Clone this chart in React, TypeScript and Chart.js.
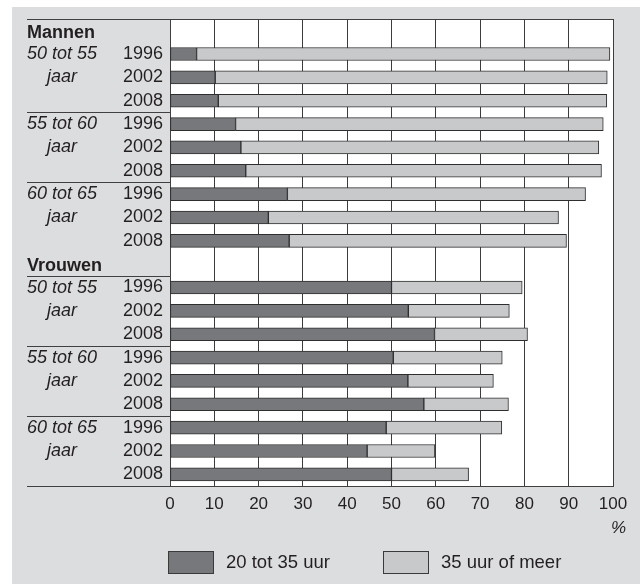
import { useEffect, useRef } from 'react';
import { Chart, registerables } from 'chart.js';

Chart.register(...registerables);

// ---- data ----
const categories = [
  '', '1996', '2002', '2008', '1996', '2002', '2008', '1996', '2002', '2008',
  '', '1996', '2002', '2008', '1996', '2002', '2008', '1996', '2002', '2008',
];
const sexLabels = ['Mannen', 'Vrouwen'];
const ageLabels = [
  ['50 tot 55', 'jaar'],
  ['55 tot 60', 'jaar'],
  ['60 tot 65', 'jaar'],
];
const seriesNames = ['20 tot 35 uur', '35 uur of meer'];
const part20to35: (number | null)[] = [
  null, 6.0, 10.2, 10.9, 14.8, 16.0, 17.1, 26.5, 22.2, 26.9,
  null, 50.0, 53.8, 59.7, 50.4, 53.7, 57.3, 48.8, 44.5, 50.0,
];
const part35plus: (number | null)[] = [
  null, 93.3, 88.5, 87.7, 83.0, 80.8, 80.3, 67.3, 65.5, 62.6,
  null, 29.5, 22.8, 21.0, 24.6, 19.3, 19.1, 26.1, 15.3, 17.4,
];
const xMin = 0;
const xMax = 100;
const xStep = 10;
const unitLabel = '%';

const DARK = '#77787b';
const LIGHT = '#c8c9cb';
const EDGE = '#2e2e2e';
const TEXT = '#231f20';
const BG = '#dcdddf';
const FONT = "'Liberation Sans', Arial, Helvetica, sans-serif";

const decorPlugin = {
  id: 'decor',
  beforeDraw(chart: any) {
    const { ctx, width, height, chartArea } = chart;
    ctx.save();
    ctx.fillStyle = '#ffffff';
    ctx.fillRect(0, 0, width, height);
    ctx.fillStyle = BG;
    ctx.fillRect(12, 7, width - 12, height - 7);
    ctx.fillStyle = '#ffffff';
    ctx.fillRect(chartArea.left, chartArea.top, chartArea.right - chartArea.left, chartArea.bottom - chartArea.top);
    ctx.restore();
  },
  afterDraw(chart: any) {
    const { ctx, chartArea } = chart;
    const y = chart.scales.y;
    const n = categories.length;
    const step = (chartArea.bottom - chartArea.top) / n;
    const rowY = (i: number) => y.getPixelForValue(i);
    const leftX = 27;
    ctx.save();
    // separators
    ctx.strokeStyle = '#404040';
    ctx.lineWidth = 1;
    const line = (yy: number, x2: number) => {
      const py = Math.round(yy) + 0.5;
      ctx.beginPath();
      ctx.moveTo(leftX, py);
      ctx.lineTo(x2, py);
      ctx.stroke();
    };
    line(chartArea.top, chartArea.right);
    line(chartArea.bottom, chartArea.right);
    const blockSize = 1 + ageLabels.length * 3;
    sexLabels.forEach((_, s) => {
      ageLabels.forEach((__, g) => {
        const r = s * blockSize + 1 + g * 3;
        if (r !== 1) line(rowY(r) - step / 2, chartArea.left);
      });
    });
    // labels
    ctx.fillStyle = TEXT;
    ctx.textBaseline = 'middle';
    sexLabels.forEach((sex, s) => {
      const start = s * blockSize;
      ctx.font = `bold 18px ${FONT}`;
      ctx.textAlign = 'left';
      ctx.fillText(sex, leftX, rowY(start) + 2);
      ageLabels.forEach((lines, g) => {
        const r = start + 1 + g * 3;
        ctx.font = `italic 18px ${FONT}`;
        ctx.textAlign = 'left';
        ctx.fillText(lines[0], leftX, rowY(r));
        const w = ctx.measureText(lines[0]).width;
        ctx.textAlign = 'center';
        ctx.fillText(lines[1], leftX + w / 2, rowY(r + 1));
      });
    });
    // unit label
    ctx.font = `italic 17px ${FONT}`;
    ctx.textAlign = 'right';
    ctx.fillText(unitLabel, chartArea.right + 13, chartArea.bottom + 42);
    // legend
    const colors = [DARK, LIGHT];
    const boxX = [chartArea.left - 2, chartArea.left + 213];
    seriesNames.forEach((name, i) => {
      ctx.fillStyle = colors[i];
      ctx.fillRect(boxX[i], 551, 46, 23);
      ctx.strokeStyle = '#3a3a3a';
      ctx.lineWidth = 1;
      ctx.strokeRect(boxX[i] + 0.5, 551.5, 45, 22);
      ctx.fillStyle = TEXT;
      ctx.font = `18.5px ${FONT}`;
      ctx.textAlign = 'left';
      ctx.textBaseline = 'middle';
      ctx.fillText(name, boxX[i] + 58, 563);
    });
    ctx.restore();
  },
};

export default function App() {
  const ref = useRef<HTMLCanvasElement | null>(null);
  useEffect(() => {
    if (!ref.current) return;
    const chart = new Chart(ref.current, {
      type: 'bar',
      data: {
        labels: categories,
        datasets: [
          {
            label: seriesNames[0],
            data: part20to35,
            backgroundColor: DARK,
            borderColor: EDGE,
            borderWidth: 1,
            borderSkipped: false,
            barThickness: 13,
          },
          {
            label: seriesNames[1],
            data: part35plus,
            backgroundColor: LIGHT,
            borderColor: EDGE,
            borderWidth: 1,
            borderSkipped: false,
            barThickness: 13,
          },
        ],
      },
      options: {
        indexAxis: 'y',
        responsive: false,
        animation: false,
        layout: { padding: { left: 0, top: 19, right: 27, bottom: 46 } },
        plugins: {
          legend: { display: false },
          tooltip: { enabled: false },
        },
        scales: {
          x: {
            stacked: true,
            min: xMin,
            max: xMax,
            ticks: { stepSize: xStep, color: TEXT, padding: 8, font: { family: FONT, size: 17 } },
            grid: { color: '#3c3c3c', lineWidth: 1, drawTicks: false },
            border: { display: true, color: '#404040', width: 1 },
            afterFit(scale: any) {
              scale.height = 52;
            },
          },
          y: {
            stacked: true,
            ticks: { color: TEXT, padding: 7, font: { family: FONT, size: 18 }, autoSkip: false },
            grid: { display: false, drawTicks: false },
            border: { display: true, color: '#404040', width: 1 },
            afterFit(scale: any) {
              scale.width = 170;
            },
          },
        },
      },
      plugins: [decorPlugin],
    });
    return () => chart.destroy();
  }, []);
  return (
    <div style={{ position: 'absolute', left: 0, top: 0, width: 640, height: 584 }}>
      <canvas ref={ref} width={640} height={584} />
    </div>
  );
}
